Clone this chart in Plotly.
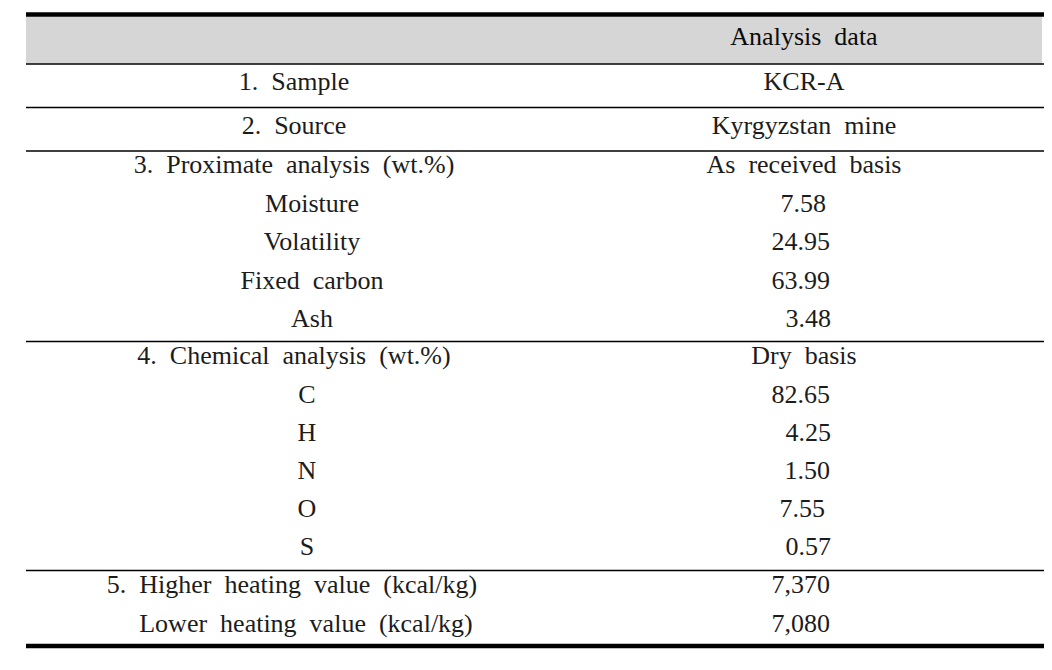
import plotly.graph_objects as go

# ---- data ----
header_right = "Analysis data"
row_labels = [
    "1. Sample", "2. Source", "3. Proximate analysis (wt.%)",
    "Moisture", "Volatility", "Fixed carbon", "Ash",
    "4. Chemical analysis (wt.%)", "C", "H", "N", "O", "S",
    "5. Higher heating value (kcal/kg)", "Lower heating value (kcal/kg)",
]
row_values = [
    "KCR-A", "Kyrgyzstan mine", "As received basis",
    "7.58", "24.95", "63.99", "3.48",
    "Dry basis", "82.65", "4.25", "1.50", "7.55", "0.57",
    "7,370", "7,080",
]
is_numeric = [False, False, False, True, True, True, True,
              False, True, True, True, True, True, True, True]

# ---- layout (pixel coordinates of the page) ----
W, H = 1052, 670
OFF = 8  # default body margin of the html page
row_y = [83.5, 127.5, 166.5, 205.5, 243.5, 282.5, 320.5, 357.5, 396.5, 434.5, 472.5, 510.5, 548.5, 586.5, 625.5]
label_x = [294, 294, 294, 312, 312, 312, 312, 294, 307, 307, 307, 307, 307, 292, 306]
num_right_x = [None, None, None, 826, 830, 830, 831, None, 830, 831, 830, 825, 831, 830, 830]
text_center_x = 804
FONT = dict(family="Liberation Serif", size=26, color="#1c1c1c")

def nb(s):
    # widen inter-word spacing like the reference typesetting
    return s.replace(" ", "\u00a0\u00a0")

fig = go.Figure()

# left column labels
fig.add_trace(go.Scatter(
    x=label_x, y=row_y, mode="text", text=[nb(s) for s in row_labels],
    textposition="middle center", textfont=FONT, hoverinfo="skip", showlegend=False))

# right column text entries (centered)
tx = [text_center_x for v, n in zip(row_values, is_numeric) if not n]
ty = [y for y, n in zip(row_y, is_numeric) if not n]
tt = [nb(v) for v, n in zip(row_values, is_numeric) if not n]
fig.add_trace(go.Scatter(
    x=tx, y=ty, mode="text", text=tt, textposition="middle center",
    textfont=FONT, hoverinfo="skip", showlegend=False))

# right column numeric entries (right aligned)
nx = [x for x, n in zip(num_right_x, is_numeric) if n]
ny = [y for y, n in zip(row_y, is_numeric) if n]
nt = [v for v, n in zip(row_values, is_numeric) if n]
fig.add_trace(go.Scatter(
    x=nx, y=ny, mode="text", text=nt, textposition="middle left",
    textfont=FONT, hoverinfo="skip", showlegend=False))

# header
fig.add_trace(go.Scatter(
    x=[text_center_x], y=[38.5], mode="text", text=[nb(header_right)],
    textposition="middle center", textfont=dict(FONT, color="#0a0a0a"),
    hoverinfo="skip", showlegend=False))

shapes = [
    dict(type="rect", x0=26, x1=1042, y0=16.5, y1=63.5, fillcolor="#d6d6d6", line_width=0, layer="below"),
    dict(type="line", x0=26, x1=1046, y0=14.5, y1=14.5, line=dict(color="black", width=4.5)),
    dict(type="line", x0=26, x1=1046, y0=646, y1=646, line=dict(color="black", width=4.5)),
]
for yy in [64, 107.5, 151, 341.5, 570.5]:
    shapes.append(dict(type="line", x0=26, x1=1046, y0=yy, y1=yy, line=dict(color="black", width=1.3)))

fig.update_layout(
    width=W, height=H, margin=dict(l=0, r=0, t=0, b=0),
    paper_bgcolor="white", plot_bgcolor="white", shapes=shapes,
    xaxis=dict(range=[OFF, W + OFF], visible=False, fixedrange=True),
    yaxis=dict(range=[H + OFF, OFF], visible=False, fixedrange=True),
)
fig.write_html("out.html")
